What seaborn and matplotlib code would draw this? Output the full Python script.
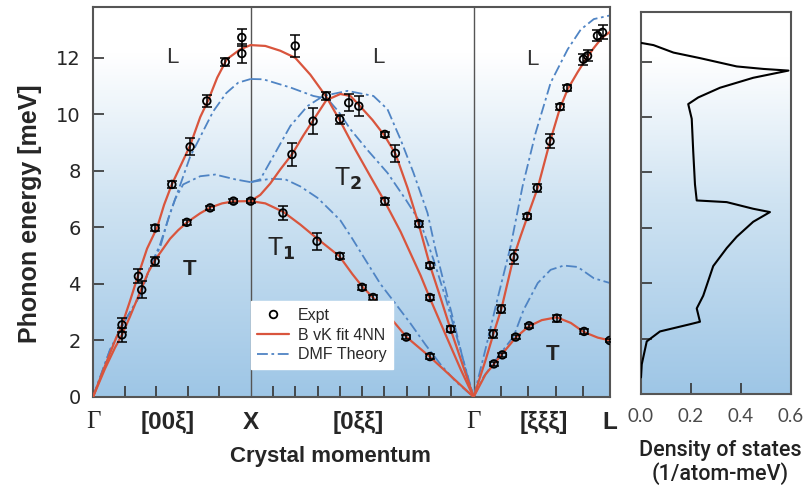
import numpy as np
import pandas as pd
import matplotlib
matplotlib.use("Agg")
import matplotlib.pyplot as plt
import seaborn as sns
from matplotlib.colors import LinearSegmentedColormap
from matplotlib.lines import Line2D

# ---------------- data (path coordinate, energy in meV) ----------------
X_POS = 1.0
G2_POS = 1 + np.sqrt(2)
L_POS = G2_POS + np.sqrt(3) / 2

# Born-von Karman fit (red)
fit_GX_L_x = [0.000, 0.076, 0.140, 0.184, 0.235, 0.286, 0.343, 0.407, 0.451, 0.500, 0.553, 0.616, 0.680, 0.731, 0.788, 0.849, 0.934, 1.000]
fit_GX_L_E = [0.0, 1.1, 2.0, 2.55, 3.4, 4.3, 5.25, 6.0, 6.8, 7.52, 8.15, 8.9, 9.9, 10.5, 11.3, 11.95, 12.3, 12.45]
fit_GX_T_x = [0.000, 0.076, 0.140, 0.184, 0.235, 0.305, 0.349, 0.394, 0.445, 0.489, 0.540, 0.597, 0.680, 0.743, 0.819, 0.889, 1.000]
fit_GX_T_E = [0.0, 1.0, 1.75, 2.2, 2.85, 3.8, 4.4, 4.85, 5.25, 5.6, 5.9, 6.18, 6.5, 6.7, 6.85, 6.92, 6.93]
fit_XG_A_x = [1.000, 1.093, 1.188, 1.283, 1.379, 1.480, 1.569, 1.664, 1.760, 1.849, 1.951, 2.078, 2.135, 2.237, 2.332, G2_POS]
fit_XG_A_E = [12.45, 12.42, 12.25, 12.0, 11.4, 10.62, 9.75, 8.75, 7.8, 6.93, 5.85, 4.3, 3.52, 2.2, 0.98, 0.0]
fit_XG_T2_x = [1.000, 1.061, 1.124, 1.188, 1.264, 1.334, 1.398, 1.480, 1.569, 1.633, 1.684, 1.773, 1.849, 1.919, 1.995, 2.065, 2.135, 2.205, 2.268, 2.344, G2_POS]
fit_XG_T2_E = [6.93, 7.15, 7.55, 8.05, 8.6, 9.25, 9.8, 10.5, 10.72, 10.65, 10.35, 9.8, 9.25, 8.6, 7.4, 6.13, 4.7, 3.5, 2.4, 1.15, 0.0]
fit_XG_T1_x = [1.000, 1.093, 1.207, 1.315, 1.423, 1.563, 1.645, 1.709, 1.779, 1.887, 1.989, 2.135, 2.268, G2_POS]
fit_XG_T1_E = [6.93, 6.85, 6.55, 6.1, 5.6, 4.98, 4.35, 3.9, 3.5, 2.8, 2.12, 1.43, 0.75, 0.0]
fit_GL_L_x = [G2_POS, 2.490, 2.541, 2.592, 2.668, 2.713, 2.757, 2.821, 2.897, 2.961, 3.012, 3.075, 3.126, 3.177, 3.227, L_POS]
fit_GL_L_E = [0.0, 1.3, 2.25, 3.15, 4.95, 5.7, 6.4, 7.4, 9.0, 10.2, 10.9, 11.5, 11.95, 12.35, 12.7, 12.92]
fit_GL_T_x = [G2_POS, 2.490, 2.541, 2.592, 2.681, 2.764, 2.847, 2.942, 3.031, 3.113, 3.202, L_POS]
fit_GL_T_E = [0.0, 0.8, 1.15, 1.5, 2.1, 2.5, 2.72, 2.82, 2.62, 2.3, 2.1, 2.0]

# DMF theory (blue dash-dot)
dmf_GX_L_x = [0.000, 0.108, 0.203, 0.299, 0.362, 0.426, 0.489, 0.553, 0.616, 0.680, 0.762, 0.845, 0.921, 1.000]
dmf_GX_L_E = [0.0, 1.67, 2.7, 3.6, 4.6, 5.4, 6.5, 7.5, 8.5, 9.2, 10.1, 10.75, 11.12, 11.25]
dmf_GX_T_x = [0.000, 0.108, 0.203, 0.299, 0.362, 0.426, 0.477, 0.521, 0.572, 0.680, 0.775, 0.902, 1.000]
dmf_GX_T_E = [0.0, 1.67, 2.7, 3.6, 4.6, 5.3, 6.3, 7.0, 7.52, 7.81, 7.87, 7.7, 7.6]
dmf_XG_L_x = [1.000, 1.080, 1.252, 1.398, 1.487, 1.557, 1.633, 1.747, 1.868, 1.982, 2.078, 2.160, 2.237, 2.319, G2_POS]
dmf_XG_L_E = [11.25, 11.24, 10.95, 10.65, 10.55, 10.1, 9.47, 8.7, 7.93, 7.0, 6.16, 4.86, 3.5, 1.9, 0.0]
dmf_XG_T2_x = [1.000, 1.061, 1.144, 1.252, 1.360, 1.461, 1.614, 1.779, 1.868, 1.951, 2.033, 2.122, 2.173, 2.237, 2.300, 2.357, G2_POS]
dmf_XG_T2_E = [7.6, 7.7, 8.52, 9.59, 10.29, 10.65, 10.83, 10.65, 10.18, 9.11, 7.93, 6.51, 5.21, 3.8, 2.4, 1.1, 0.0]
dmf_XG_T1_x = [1.000, 1.124, 1.220, 1.315, 1.423, 1.506, 1.569, 1.645, 1.728, 1.823, 1.919, 2.014, 2.109, 2.205, 2.300, G2_POS]
dmf_XG_T1_E = [7.6, 7.72, 7.7, 7.45, 7.05, 6.6, 6.25, 5.6, 4.85, 4.0, 3.3, 2.6, 1.85, 1.15, 0.55, 0.0]
dmf_GL_L_x = [G2_POS, 2.490, 2.567, 2.649, 2.725, 2.808, 2.903, 3.011, 3.094, 3.177, L_POS]
dmf_GL_L_E = [0.0, 1.7, 3.5, 5.33, 7.46, 9.35, 11.12, 12.3, 13.0, 13.37, 13.5]
dmf_GL_T_x = [G2_POS, 2.478, 2.586, 2.668, 2.732, 2.821, 2.903, 2.986, 3.075, 3.177, L_POS]
dmf_GL_T_E = [0.0, 0.72, 1.55, 2.14, 3.09, 4.03, 4.5, 4.65, 4.6, 4.2, 4.03]

# Experimental points
expt_x = [0.184, 0.184, 0.288, 0.309, 0.394, 0.394, 0.595, 0.743, 0.891, 1.000, 0.500, 0.616, 0.722, 0.839, 0.944, 0.944,
          1.283, 1.480, 1.622, 1.686, 1.565, 1.396, 1.262, 1.205, 1.421, 1.851, 1.918, 1.851, 2.067, 1.565, 1.707, 1.777,
          1.987, 2.137, 2.137, 2.137, 2.268,
          2.543, 2.597, 2.681, 2.766, 2.942, 3.115, 3.278, 2.539, 2.590, 2.670, 2.755, 2.819, 2.899, 2.963, 3.009,
          3.111, 3.137, 3.200, 3.232]
expt_E = [2.55, 2.2, 4.27, 3.79, 4.8, 5.98, 6.18, 6.69, 6.93, 6.93, 7.52, 8.85, 10.47, 11.85, 12.15, 12.72,
          12.42, 10.65, 10.41, 10.29, 9.82, 9.76, 8.58, 6.51, 5.51, 9.29, 8.62, 6.93, 6.13, 4.98, 3.88, 3.52,
          2.12, 1.43, 4.65, 3.52, 2.40,
          1.17, 1.49, 2.12, 2.52, 2.79, 2.32, 2.0, 2.23, 3.11, 4.95, 6.39, 7.4, 9.05, 10.27, 10.94,
          11.95, 12.07, 12.78, 12.9]
expt_err = [0.25, 0.25, 0.25, 0.3, 0.15, 0.1, 0.08, 0.08, 0.08, 0.08, 0.12, 0.3, 0.2, 0.15, 0.35, 0.3,
            0.4, 0.15, 0.3, 0.35, 0.15, 0.45, 0.4, 0.25, 0.3, 0.1, 0.3, 0.12, 0.1, 0.1, 0.08, 0.08,
            0.08, 0.08, 0.1, 0.08, 0.1,
            0.08, 0.08, 0.08, 0.08, 0.12, 0.08, 0.05, 0.15, 0.15, 0.25, 0.1, 0.15, 0.25, 0.1, 0.1,
            0.2, 0.2, 0.2, 0.25]

# Density of states
dos_E = [12.68, 12.6, 12.33, 12.13, 11.83, 11.74, 11.68, 11.42, 11.06, 10.71, 10.47, 9.94, 8.76, 7.57, 6.99, 6.93,
         6.69, 6.57, 6.22, 5.68, 5.27, 4.62, 3.55, 3.09, 2.61, 2.52, 2.26, 1.9, 1.07, 0.6]
dos_g = [0.0, 0.05, 0.13, 0.236, 0.383, 0.489, 0.59, 0.449, 0.316, 0.229, 0.189, 0.203, 0.209, 0.216, 0.223, 0.343,
         0.449, 0.516, 0.449, 0.383, 0.343, 0.289, 0.249, 0.223, 0.236, 0.196, 0.076, 0.023, 0.003, 0.0]

tick_labels = ["Γ", "[00ξ]", "X", "[0ξξ]", "Γ", "[ξξξ]", "L"]
dos_ticks = [0.0, 0.2, 0.4, 0.6]
dos_tick_labels = ["0.0", "0.2", "0.4", "0.6"]

# ---------------- build tables ----------------
fit_branches = [(fit_GX_L_x, fit_GX_L_E), (fit_GX_T_x, fit_GX_T_E), (fit_XG_A_x, fit_XG_A_E),
                (fit_XG_T2_x, fit_XG_T2_E), (fit_XG_T1_x, fit_XG_T1_E), (fit_GL_L_x, fit_GL_L_E),
                (fit_GL_T_x, fit_GL_T_E)]
dmf_branches = [(dmf_GX_L_x, dmf_GX_L_E), (dmf_GX_T_x, dmf_GX_T_E), (dmf_XG_L_x, dmf_XG_L_E),
                (dmf_XG_T2_x, dmf_XG_T2_E), (dmf_XG_T1_x, dmf_XG_T1_E), (dmf_GL_L_x, dmf_GL_L_E),
                (dmf_GL_T_x, dmf_GL_T_E)]


def to_df(branches):
    rows = []
    for i, (xs, es) in enumerate(branches):
        for k, (xv, ev) in enumerate(zip(xs, es)):
            rows.append({"x": xv, "E": ev, "branch": i, "order": k})
    return pd.DataFrame(rows)


fit_df = to_df(fit_branches)
dmf_df = to_df(dmf_branches)
expt_df = pd.DataFrame({"x": expt_x, "E": expt_E, "err": expt_err})
dos_df = pd.DataFrame({"g": dos_g, "E": dos_E})

# ---------------- style ----------------
sns.set_theme(style="white")
plt.rcParams['font.family'] = ['Liberation Sans', 'DejaVu Sans']
plt.rcParams['mathtext.fontset'] = 'custom'
plt.rcParams['mathtext.rm'] = 'Liberation Sans'

RED = "#d9553d"
BLUE = "#4f84c4"
SPINE = "#555555"

fig = plt.figure(figsize=(8.08, 4.95), dpi=100)
ax = fig.add_axes([0.1151, 0.198, 0.640, 0.788])
ax2 = fig.add_axes([0.7933, 0.204, 0.1856, 0.772])

YMAX = 13.8
cmap = LinearSegmentedColormap.from_list("bg", [(0.0, "#9ec6e6"), (0.5, "#cfe3f2"), (0.88, "#ffffff"), (1.0, "#ffffff")])
grad = np.linspace(0, 1, 256).reshape(-1, 1)
ax.imshow(grad, extent=[0, L_POS, 0, YMAX], origin="lower", aspect="auto", cmap=cmap, zorder=0)
ax2.imshow(grad, extent=[0, 0.6, 0, YMAX], origin="lower", aspect="auto", cmap=cmap, zorder=0)

# vertical separators
ax.axvline(X_POS, color=SPINE, lw=1.0, zorder=1)
ax.axvline(G2_POS, color=SPINE, lw=1.0, zorder=1)

sns.lineplot(data=dmf_df, x="x", y="E", units="branch", estimator=None, sort=False, ax=ax,
             color=BLUE, lw=1.3, linestyle=(0, (6, 2, 1.5, 2)), legend=False, zorder=2)
sns.lineplot(data=fit_df, x="x", y="E", units="branch", estimator=None, sort=False, ax=ax,
             color=RED, lw=1.6, legend=False, zorder=3)

ax.errorbar(expt_df["x"], expt_df["E"], yerr=expt_df["err"], fmt="none", ecolor="black",
            elinewidth=1.1, capsize=3.5, capthick=1.1, zorder=4)
sns.scatterplot(data=expt_df, x="x", y="E", ax=ax, marker="o", s=30, facecolors="none",
                edgecolors="black", linewidth=1.3, legend=False, zorder=5)

ax.set_xlim(0, L_POS)
ax.set_ylim(0, YMAX)

# ticks
major_pos = [0.0, 0.476, X_POS, 1.684, G2_POS, 2.859, L_POS]
ax.set_xticks(major_pos, tick_labels)
minor_pos = [0.2, 0.4, 0.6, 0.8] + [1 + (1 - xi) * np.sqrt(2) for xi in np.arange(0.9, 0.05, -0.1)] + \
            [G2_POS + xi * np.sqrt(3) for xi in [0.1, 0.2, 0.3, 0.4]]
ax.set_xticks(minor_pos, minor=True)
ax.tick_params(axis="x", which="major", length=0, pad=10, labelsize=17.5)
ax.tick_params(axis="x", which="minor", direction="in", length=8, width=1.2, color="#333333", bottom=True)
for t in ax.get_xticklabels():
    if t.get_text() == "Γ":
        t.set_fontfamily(["Liberation Serif", "DejaVu Serif"])
        t.set_fontsize(18)
    else:
        t.set_fontweight("bold")
ax.set_yticks([0, 2, 4, 6, 8, 10, 12])
ax.tick_params(axis="y", which="major", direction="in", length=8, width=1.2, color="#333333",
               labelsize=14, pad=9, left=True)
for t in ax.get_yticklabels():
    t.set_fontfamily(["DejaVu Sans"])

for s in ax.spines.values():
    s.set_color(SPINE)
    s.set_linewidth(1.5)

ax.set_xlabel("Crystal momentum", fontsize=16, fontweight="bold")
ax.xaxis.set_label_coords(0.46, -0.125)
ax.set_ylabel("Phonon energy [meV]", fontsize=18, fontweight="bold")
ax.yaxis.set_label_coords(-0.098, 0.47)

# branch labels
ax.text(0.502, 12.0, "L", fontsize=16, color="#333333", ha="center", va="center")
ax.text(1.811, 12.0, "L", fontsize=16, color="#333333", ha="center", va="center")
ax.text(2.789, 11.95, "L", fontsize=16, color="#333333", ha="center", va="center")
ax.text(0.61, 4.5, "T", fontsize=16, color="#222222", fontweight="bold", ha="center", va="center")
ax.text(2.916, 1.5, "T", fontsize=16, color="#222222", fontweight="bold", ha="center", va="center")
ax.text(1.195, 5.25, r"T$_\mathbf{1}$", fontsize=18, color="#222222", ha="center", va="center")
ax.text(1.62, 7.7, r"T$_\mathbf{2}$", fontsize=18, color="#222222", ha="center", va="center")

# legend
handles = [Line2D([], [], marker="o", ls="none", mfc="none", mec="black", mew=1.3, ms=5.5),
           Line2D([], [], color=RED, lw=1.6),
           Line2D([], [], color=BLUE, lw=1.3, ls=(0, (6, 2, 1.5, 2)))]
leg = ax.legend(handles, ["Expt", "B vK fit 4NN", "DMF Theory"], loc="upper left",
                bbox_to_anchor=(0.305, 0.245), borderaxespad=0, fontsize=11.5, frameon=True,
                fancybox=False, framealpha=1, facecolor="white", edgecolor="white",
                handlelength=2.0, labelspacing=0.3, borderpad=0.4, handletextpad=0.55)
leg.set_zorder(6)
for t in leg.get_texts():
    t.set_color("#2a2a2a")

# DOS panel
sns.lineplot(data=dos_df, x="g", y="E", sort=False, estimator=None, ax=ax2, color="black", lw=1.5, zorder=3)
ax2.set_xlim(0, 0.6)
ax2.set_ylim(0, YMAX)
ax2.set_yticks([2, 4, 6, 8, 10, 12])
ax2.set_yticklabels([])
ax2.set_xticks(dos_ticks, dos_tick_labels)
ax2.tick_params(axis="y", direction="in", length=8, width=1.2, color="#333333", left=True)
ax2.tick_params(axis="x", direction="in", length=8, width=1.2, color="#333333", bottom=True,
                labelsize=13.5, pad=10, labelcolor="#4a4a4a")
for t in ax2.get_xticklabels():
    t.set_fontfamily(["Lato", "DejaVu Sans"])
for s in ax2.spines.values():
    s.set_color(SPINE)
    s.set_linewidth(1.5)
ax2.set_ylabel("")
ax2.set_xlabel("Density of states\n(1/atom-meV)", fontsize=15.5, linespacing=1.05,
               fontfamily=["Roboto", "Liberation Sans"], fontweight="medium", color="#222222")
ax2.xaxis.set_label_coords(0.53, -0.12)

fig.savefig("out.png", dpi=100)
